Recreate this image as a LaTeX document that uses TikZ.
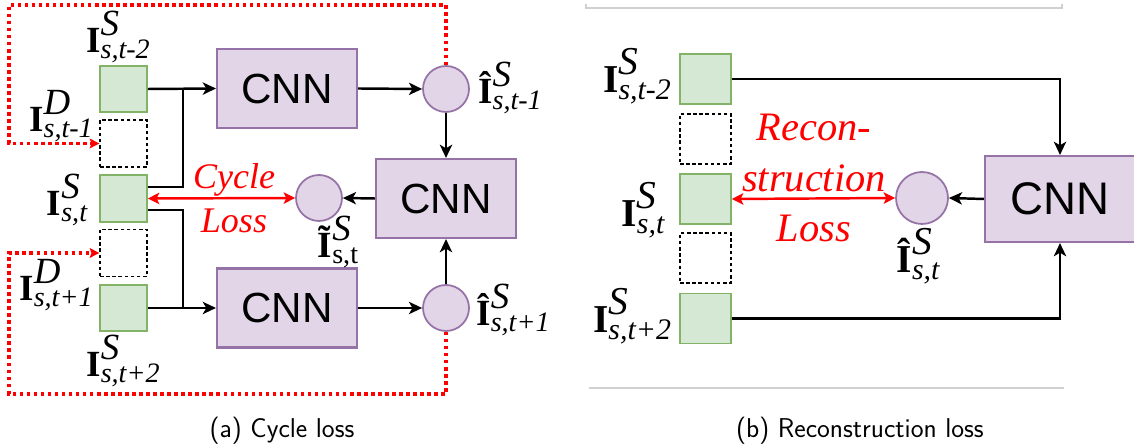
\documentclass[tikz,border=0pt]{standalone}
\usepackage{fontspec}
\setmainfont{Liberation Serif}
\newfontfamily\cnnfont{Liberation Sans}
\usepackage{xcolor}
\usetikzlibrary{
    positioning,
    calc,
    arrows.meta
}
\definecolor{FillGreen}{HTML}{D5E8D4}
\definecolor{LineGreen}{HTML}{82B366}
\definecolor{FillPurple}{HTML}{E1D5E7}
\definecolor{LinePurple}{HTML}{9673A6}
\definecolor{LossRed}{HTML}{FF0000}
\definecolor{RuleGray}{HTML}{D0D0D0}

% label I with superscript and subscript
\newcommand{\imlab}[3]{{\bfseries #1}\makebox[0pt][l]{\raisebox{0.47em}{\itshape #2}}\raisebox{-0.17em}{\labsub #3}}
\newcommand{\labA}{\fontsize{21}{21}\selectfont\def\labsub{\fontsize{16}{16}\selectfont}}
\newcommand{\labB}{\fontsize{22.5}{22.5}\selectfont\def\labsub{\fontsize{17}{17}\selectfont}}

\tikzset{
    frame/.style={draw=LineGreen, fill=FillGreen, line width=1pt, minimum width=0.94cm, minimum height=0.93cm, inner sep=0pt},
    frameb/.style={frame, minimum width=1.02cm, minimum height=1.0cm},
    missing/.style={draw=black, line width=0.7pt, dash pattern=on 2pt off 1.5pt, minimum width=0.94cm, minimum height=0.94cm, inner sep=0pt},
    missingb/.style={missing, minimum width=1.02cm, minimum height=1.0cm},
    cnnbox/.style={draw=LinePurple, fill=FillPurple, line width=1.2pt, minimum width=2.8cm, minimum height=1.58cm, font=\cnnfont\fontsize{24}{24}\selectfont},
    outcircle/.style={circle, draw=LinePurple, fill=FillPurple, line width=1pt, minimum size=0.92cm, inner sep=0pt},
    arr/.style={line width=1.4pt, -{Stealth[length=7.5pt, width=7pt, inset=2pt]}},
    lossarrow/.style={draw=LossRed, line width=1.4pt, {Stealth[length=6.5pt, width=6.5pt, inset=1.5pt]}-{Stealth[length=6.5pt, width=6.5pt, inset=1.5pt]}},
    feedback/.style={draw=LossRed, line width=2pt, dash pattern=on 2pt off 2pt, -{Stealth[length=5.5pt, width=5.5pt, inset=1pt]}},
    losstext/.style={text=LossRed, align=center, font=\itshape}
}

\begin{document}
\begin{tikzpicture}[x=0.02cm, y=-0.02cm]
    \useasboundingbox (0,0) rectangle (1134,448);

    % (a) cycle loss
    \node[frame] (g1) at (123.5,89) {};
    \node[missing] (d1) at (123.5,143.5) {};
    \node[frame] (g2) at (123.5,198.5) {};
    \node[missing] (d2) at (123.5,253) {};
    \node[frame] (g3) at (123.5,308) {};

    \node[cnnbox] (cnnA) at (287,88.5) {CNN};
    \node[cnnbox] (cnnB) at (287,308) {CNN};
    \node[cnnbox] (cnnC) at (446,198.5) {CNN};

    \node[outcircle] (cA) at (446,89) {};
    \node[outcircle] (cB) at (446,308) {};
    \node[outcircle] (cT) at (319,198) {};

    \coordinate (jA) at (183,89);
    \coordinate (jB) at (183,308);
    \coordinate (rTL) at (9,5);
    \coordinate (rBL) at (9,394);

    \draw[arr] (g1.east) -- (cnnA.west);
    \draw[arr] (g3.east) -- (cnnB.west);
    \draw[line width=1.4pt] ([yshift=0.23cm]g2.east) -| (jA);
    \draw[line width=1.4pt] ([yshift=-0.23cm]g2.east) -| (jB);
    \draw[arr] (cnnA.east) -- (cA.west);
    \draw[arr] (cnnB.east) -- (cB.west);
    \draw[arr] (cA.south) -- (cnnC.north);
    \draw[arr] (cB.north) -- (cnnC.south);
    \draw[arr] (cnnC.west) -- (cT.east);
    \draw[lossarrow] (g2.east) -- (cT.west);
    \draw[feedback] (cA.north) |- (rTL) |- (d1.west);
    \draw[feedback] (cB.south) |- (rBL) |- (d2.west);

    \node[font=\labA] (l1) at (118,37) {\imlab{I}{S}{\itshape s,t-2}};
    \node[font=\labA] (lD1) at (61,116) {\imlab{I}{D}{\itshape s,t-1}};
    \node[font=\labA] (l2) at (67,200) {\imlab{I}{S}{\itshape s,t}};
    \node[font=\labA] (lD2) at (56,285) {\imlab{I}{D}{\itshape s,t+1}};
    \node[font=\labA] (l3) at (123,361) {\imlab{I}{S}{\itshape s,t+2}};
    \node[font=\labA] (lA) at (510,88) {\imlab{\^I}{S}{\itshape s,t-1}};
    \node[font=\labA] (lT) at (338,242) {\imlab{\~I}{S}{\upshape s,t}};
    \node[font=\labA] (lB) at (513,310) {\imlab{\^I}{S}{\itshape s,t+1}};

    \node[losstext, font=\itshape\fontsize{20.5}{25}\selectfont] (cyc) at (234,198) {Cycle\\Loss};

    \node[font=\sffamily\fontsize{15.5}{15.5}\selectfont] (capA) at (282,431) {(a) Cycle loss};

    % (b) reconstruction loss
    \draw[RuleGray, line width=0.8pt] (586,4) -- (586,8) -- (1062,8) -- (1062,4);
    \draw[RuleGray, line width=1.2pt] (589,388) -- (1064,388);

    \node[frameb] (gb1) at (705.5,79) {};
    \node[missingb] (db1) at (705.5,139) {};
    \node[frameb] (gb2) at (705.5,199) {};
    \node[missingb] (db2) at (705.5,258) {};
    \node[frameb] (gb3) at (705.5,318.5) {};

    \node[cnnbox, minimum width=3.0cm, minimum height=1.72cm, font=\cnnfont\fontsize{26}{26}\selectfont] (cnnR) at (1060,199) {CNN};
    \node[outcircle, minimum size=1.04cm] (cR) at (922,198) {};

    \draw[arr] (gb1.east) -| (cnnR.north);
    \draw[arr] (gb3.east) -| (cnnR.south);
    \draw[arr] (cnnR.west) -- (cR.east);
    \draw[lossarrow] (gb2.east) -- (cR.west);

    \node[font=\labB] (lb1) at (637,76) {\imlab{I}{S}{\itshape s,t-2}};
    \node[font=\labB] (lb2) at (643,210) {\imlab{I}{S}{\itshape s,t}};
    \node[font=\labB] (lb3) at (632,316) {\imlab{I}{S}{\itshape s,t+2}};
    \node[font=\labB] (lbh) at (918,256) {\imlab{\^I}{S}{\itshape s,t}};

    \node[losstext, font=\itshape\fontsize{23}{28.5}\selectfont] (rec) at (814,178) {Recon-\\struction\\Loss};

    \node[font=\sffamily\fontsize{15.5}{15.5}\selectfont] (capB) at (860,431) {(b) Reconstruction loss};
\end{tikzpicture}
\end{document}
